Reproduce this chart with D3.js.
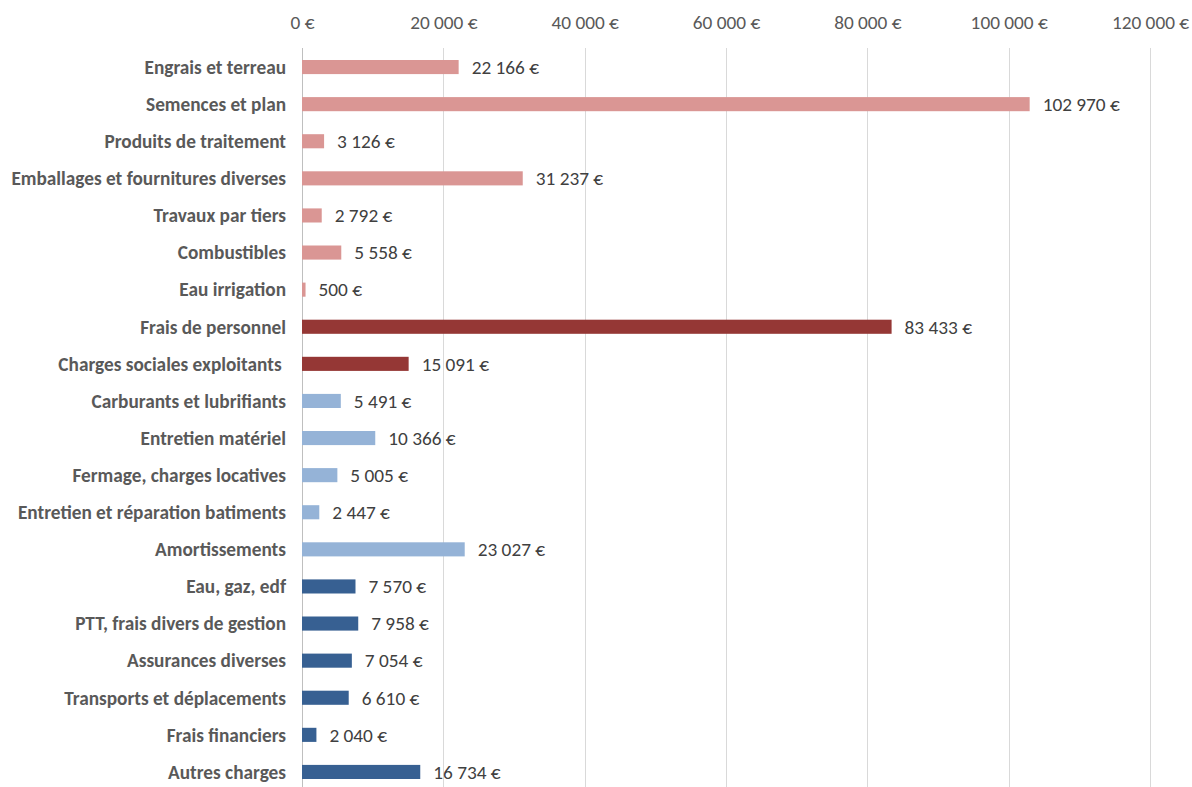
<!DOCTYPE html>
<html>
<head>
<meta charset="utf-8">
<script src="https://cdn.jsdelivr.net/npm/d3@7"></script>
<style>
  html, body { margin: 0; padding: 0; background: #fff; }
  svg text { font-family: Carlito, "Liberation Sans Narrow", "Open Sans", sans-serif; }
</style>
</head>
<body>
<svg id="chart" width="1192" height="787"></svg>
<script>
// Charges d'exploitation, par poste
const categories = [
  "Engrais et terreau",
  "Semences et plan",
  "Produits de traitement",
  "Emballages et fournitures diverses",
  "Travaux par tiers",
  "Combustibles",
  "Eau irrigation",
  "Frais de personnel",
  "Charges sociales exploitants ",
  "Carburants et lubrifiants",
  "Entretien matériel",
  "Fermage, charges locatives",
  "Entretien et réparation batiments",
  "Amortissements",
  "Eau, gaz, edf",
  "PTT, frais divers de gestion",
  "Assurances diverses",
  "Transports et déplacements",
  "Frais financiers",
  "Autres charges"
];
const values = [22166, 102970, 3126, 31237, 2792, 5558, 500, 83433, 15091, 5491,
                10366, 5005, 2447, 23027, 7570, 7958, 7054, 6610, 2040, 16734];
// Groupe de chaque poste : approvisionnements, personnel, structure, gestion
const groups = ["appro", "appro", "appro", "appro", "appro", "appro", "appro",
                "personnel", "personnel",
                "structure", "structure", "structure", "structure", "structure",
                "gestion", "gestion", "gestion", "gestion", "gestion", "gestion"];
const tickValues = [0, 20000, 40000, 60000, 80000, 100000, 120000];

const groupColor = d3.scaleOrdinal()
  .domain(["appro", "personnel", "structure", "gestion"])
  .range(["#da9694", "#953735", "#95b3d7", "#376092"]);

const fmt = v => d3.format(",")(v).replace(/,/g, "\u00a0") + "\u00a0\u20ac";

const svg = d3.select("#chart");
const margin = { left: 302, right: 42, top: 48, bottom: 0 };
const width = 1192, height = 787;
const fontSize = 19.3;

const x = d3.scaleLinear().domain([0, 120000]).range([margin.left, width - margin.right]);
const y = d3.scaleBand().domain(categories)
  .range([48.5, 790.5]).paddingInner(0.62).paddingOuter(0.31);

// Grille verticale
svg.append("g")
  .selectAll("line")
  .data(tickValues)
  .join("line")
  .attr("x1", d => Math.round(x(d)) + 0.5)
  .attr("x2", d => Math.round(x(d)) + 0.5)
  .attr("y1", margin.top)
  .attr("y2", height)
  .attr("stroke", d => d === 0 ? "#bfbfbf" : "#d9d9d9")
  .attr("stroke-width", 1);

// Axe des montants en haut
const xAxis = d3.axisTop(x).tickValues(tickValues).tickFormat(fmt).tickSize(0).tickPadding(0);
const gx = svg.append("g").attr("transform", "translate(0,22)").call(xAxis);
gx.select(".domain").remove();
gx.selectAll("text")
  .attr("font-size", fontSize)
  .attr("fill", "#595959")
  .attr("dy", "0.35em");

// Barres
svg.append("g")
  .selectAll("rect")
  .data(values)
  .join("rect")
  .attr("x", x(0))
  .attr("y", (d, i) => y(categories[i]))
  .attr("width", d => x(d) - x(0))
  .attr("height", y.bandwidth())
  .attr("fill", (d, i) => groupColor(groups[i]));

// Étiquettes des postes
svg.append("g")
  .selectAll("text")
  .data(categories)
  .join("text")
  .attr("x", 286)
  .attr("y", d => y(d) + y.bandwidth() / 2)
  .attr("dy", "0.35em")
  .attr("text-anchor", "end")
  .attr("font-size", fontSize)
  .attr("font-weight", "bold")
  .attr("fill", "#595959")
  .style("white-space", "pre")
  .text(d => d);

// Valeurs en bout de barre
svg.append("g")
  .selectAll("text")
  .data(values)
  .join("text")
  .attr("x", d => x(d) + 13)
  .attr("y", (d, i) => y(categories[i]) + y.bandwidth() / 2)
  .attr("dy", "0.35em")
  .attr("font-size", fontSize)
  .attr("fill", "#404040")
  .text(fmt);
</script>
</body>
</html>
